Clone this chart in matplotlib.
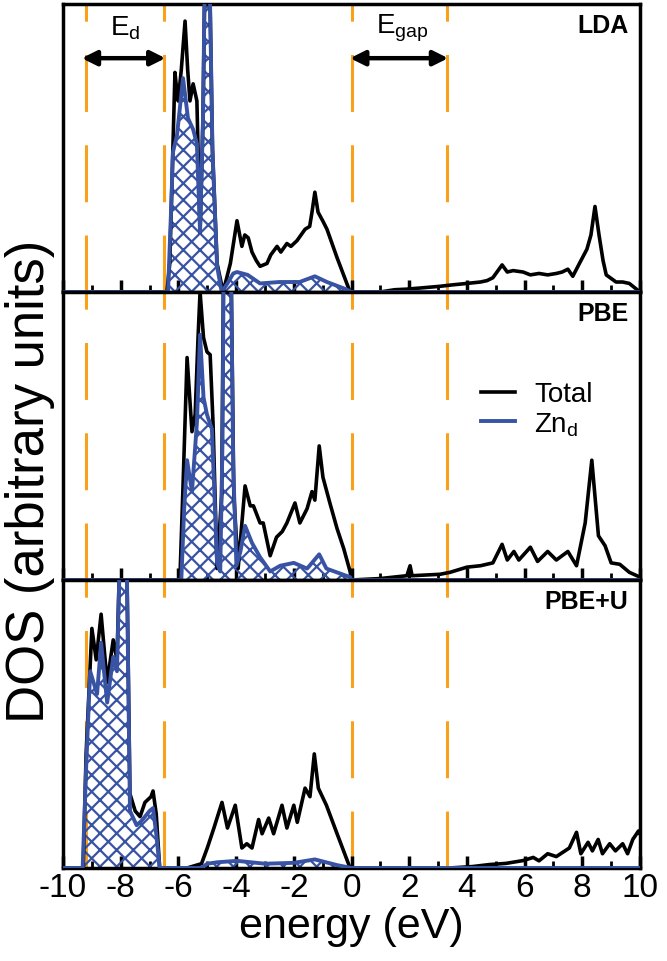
import numpy as np
import matplotlib
matplotlib.use("Agg")
import matplotlib.pyplot as plt

plt.rcParams["font.family"] = ["Liberation Sans", "DejaVu Sans"]
plt.rcParams["mathtext.fontset"] = "custom"
plt.rcParams["mathtext.rm"] = "Liberation Sans"
plt.rcParams["hatch.linewidth"] = 1.6
plt.rcParams["lines.scale_dashes"] = False

BLUE = "#3953a4"
ORANGE = "#f9a11b"

# energies of the guide lines (eV)
ed_lines = [-9.2, -6.5]
gap_lines = [0.0, 3.3]

panel_names = ["LDA", "PBE", "PBE+U"]

# ---- LDA ----
lda_total_e = [-10, -6.4, -6.3, -6.19, -6.12, -6.05, -6.01, -5.9, -5.77, -5.68, -5.6, -5.49, -5.36, -5.25,
               -5.15, -5.06, -4.95, -4.82, -4.66, -4.45, -4.2, -3.97, -3.8, -3.7, -3.58, -3.45, -3.3,
               -3.17, -2.93, -2.8, -2.58, -2.45, -2.24, -2.1, -1.89, -1.75, -1.61, -1.45, -1.37, -1.27,
               -1.16, -1.0, -0.85, -0.5, -0.05, 0.99, 1.5, 1.92, 2.5, 3.07, 3.5, 4.0, 4.47, 4.7, 4.9, 5.22,
               5.4, 5.6, 5.95, 6.2, 6.5, 6.8, 7.1, 7.3, 7.5, 7.67, 7.9, 8.16, 8.3, 8.44, 8.58, 8.72, 8.83,
               9.17, 9.4, 9.63, 10]
lda_total = [0, 0, 0.1, 0.51, 0.77, 0.7, 0.67, 0.78, 0.95, 0.78, 0.67, 0.73, 0.67, 0.21,
             0.6, 1.3, 1.3, 0.5, 0.1, 0.0, 0.1, 0.25, 0.16, 0.2, 0.19, 0.14, 0.11,
             0.09, 0.1, 0.13, 0.16, 0.14, 0.17, 0.16, 0.18, 0.2, 0.22, 0.23, 0.28, 0.35,
             0.28, 0.25, 0.22, 0.12, 0.0, 0.0, 0.008, 0.01, 0.015, 0.02, 0.025, 0.03, 0.035, 0.04, 0.05, 0.095,
             0.07, 0.075, 0.07, 0.06, 0.065, 0.06, 0.065, 0.07, 0.08, 0.055, 0.1, 0.15, 0.2, 0.3, 0.2, 0.11, 0.06,
             0.035, 0.035, 0.03, 0.0]
lda_zn_e = [-10, -6.36, -6.25, -6.19, -6.05, -5.84, -5.67, -5.49, -5.36, -5.25, -5.15, -5.06, -4.95,
            -4.82, -4.66, -4.5, -4.3, -4.1, -3.97, -3.6, -3.17, -2.5, -1.8, -1.27, -0.85, -0.2, 0, 10]
lda_zn = [0, 0, 0.3, 0.49, 0.55, 0.75, 0.61, 0.57, 0.52, 0.21, 0.6, 1.3, 1.3,
          0.5, 0.09, 0.0, 0.03, 0.065, 0.07, 0.06, 0.03, 0.035, 0.035, 0.055, 0.035, 0.01, 0, 0]

# ---- PBE ----
pbe_total_e = [-10, -5.95, -5.85, -5.7, -5.53, -5.42, -5.32, -5.25, -5.13, -5.01, -4.9, -4.8, -4.66, -4.5,
               -4.42, -4.2, -4.08, -3.93, -3.8, -3.69, -3.51, -3.4, -3.17, -3.06, -2.82, -2.6, -2.4, -2.24,
               -1.96, -1.79, -1.54, -1.37, -1.27, -1.12, -0.99, -0.75, -0.5, -0.27, -0.05, 0, 0.99, 1.92,
               2.03, 2.1, 3.07, 3.42, 4.0, 4.47, 4.9, 5.22, 5.4, 5.63, 5.8, 6.2, 6.45, 6.8, 7.1, 7.5, 7.8,
               8.1, 8.33, 8.56, 8.79, 9.0, 9.3, 9.63, 10]
pbe_total = [0, 0, 0.3, 0.78, 0.52, 0.58, 0.85, 1.01, 0.85, 0.8, 0.79, 0.55, 0.04, 0.3,
             1.3, 1.3, 0.3, 0.04, 0.2, 0.33, 0.26, 0.26, 0.2, 0.2, 0.085, 0.15, 0.17, 0.2,
             0.27, 0.2, 0.25, 0.31, 0.28, 0.47, 0.36, 0.27, 0.18, 0.11, 0.03, 0, 0.005, 0.015,
             0.05, 0.015, 0.02, 0.027, 0.045, 0.05, 0.06, 0.125, 0.07, 0.1, 0.07, 0.115, 0.065, 0.1, 0.07, 0.1, 0.05,
             0.2, 0.42, 0.155, 0.12, 0.06, 0.055, 0.027, 0.01]
pbe_zn_e = [-10, -5.9, -5.8, -5.7, -5.53, -5.36, -5.25, -5.13, -5.01, -4.84, -4.66, -4.55, -4.47, -4.42,
            -4.2, -4.1, -3.99, -3.85, -3.69, -3.45, -3.17, -2.82, -2.47, -2.0, -1.54, -1.12, -0.87, -0.05, 0, 10]
pbe_zn = [0, 0, 0.25, 0.42, 0.31, 0.55, 0.86, 0.64, 0.58, 0.53, 0.06, 0.03, 0.5, 1.3,
          1.3, 0.4, 0.05, 0.1, 0.19, 0.13, 0.08, 0.03, 0.05, 0.06, 0.04, 0.09, 0.04, 0.01, 0, 0]

# ---- PBE+U ----
pbeu_total_e = [-10, -9.3, -9.2, -9.0, -8.85, -8.68, -8.47, -8.26, -8.13, -7.98, -7.82, -7.68, -7.5, -7.33,
                -7.16, -6.95, -6.88, -6.77, -6.65, -5.7, -5.2, -5.0, -4.77, -4.49, -4.3, -4.03, -3.8, -3.63,
                -3.45, -3.22, -3.1, -2.87, -2.7, -2.41, -2.24, -2.0, -1.88, -1.61, -1.44, -1.29, -1.15,
                -0.87, -0.5, -0.05, 3.4, 4.2, 4.78, 5.35, 5.95, 6.3, 6.5, 6.8, 7.1, 7.55, 7.8, 7.95, 8.2,
                8.35, 8.55, 8.7, 8.95, 9.15, 9.4, 9.57, 9.75, 9.95, 10]
pbeu_total = [0, 0, 0.4, 0.84, 0.73, 0.89, 0.65, 0.8, 0.73, 1.3, 1.3, 0.26, 0.2, 0.18,
              0.23, 0.25, 0.27, 0.19, 0, 0, 0.015, 0.07, 0.14, 0.23, 0.14, 0.22, 0.07, 0.085,
              0.07, 0.17, 0.12, 0.175, 0.12, 0.22, 0.14, 0.22, 0.16, 0.28, 0.25, 0.4, 0.28,
              0.22, 0.12, 0, 0, 0.005, 0.012, 0.016, 0.026, 0.037, 0.025, 0.05, 0.04, 0.07, 0.125, 0.05, 0.09,
              0.06, 0.1, 0.05, 0.085, 0.06, 0.085, 0.05, 0.1, 0.13, 0.12]
pbeu_zn_e = [-10, -9.32, -9.2, -9.06, -8.82, -8.68, -8.47, -8.26, -8.13, -7.98, -7.82, -7.68, -7.45,
             -7.28, -7.0, -6.88, -6.77, -6.65, -5.2, -5.0, -4.65, -3.97, -3.0, -2.0, -1.27, -0.5, 0, 10]
pbeu_zn = [0, 0, 0.35, 0.69, 0.61, 0.79, 0.58, 0.74, 0.69, 1.3, 1.3, 0.2, 0.15,
           0.165, 0.2, 0.21, 0.12, 0, 0, 0.015, 0.02, 0.025, 0.015, 0.018, 0.03, 0.01, 0, 0]

panels = [
    (lda_total_e, lda_total, lda_zn_e, lda_zn),
    (pbe_total_e, pbe_total, pbe_zn_e, pbe_zn),
    (pbeu_total_e, pbeu_total, pbeu_zn_e, pbeu_zn),
]

fig, axes = plt.subplots(3, 1, figsize=(6.67, 9.62), dpi=100, sharex=True)
fig.subplots_adjust(left=0.0945, right=0.9595, top=0.9948, bottom=0.0967, hspace=0)

for ax, name, (te, tv, ze, zv) in zip(axes, panel_names, panels):
    for x in ed_lines + gap_lines:
        ax.axvline(x, color=ORANGE, lw=2.2, dashes=(41, 24), zorder=1)
    ax.plot(te, tv, color="black", lw=2.6, zorder=3, label="Total")
    ax.fill_between(ze, zv, facecolor="none", edgecolor=BLUE, hatch="xx", lw=0, zorder=2)
    ax.plot(ze, zv, color=BLUE, lw=2.8, zorder=4, label="Zn$_\\mathrm{d}$")
    ax.text(0.98, 0.97, name, transform=ax.transAxes, ha="right", va="top",
            fontsize=18, fontweight="bold")
    ax.set_xlim(-10, 10)
    ax.set_ylim(0, 1.01)
    ax.set_yticks([])
    ax.set_xticks(np.arange(-10, 11, 2))
    ax.set_xticks(np.arange(-10, 11, 1), minor=True)
    ax.tick_params(axis="x", which="major", direction="in", length=9, width=2.5,
                   labelsize=24, pad=3)
    ax.tick_params(axis="x", which="minor", direction="in", length=5, width=2)
    for s in ax.spines.values():
        s.set_linewidth(2.5)

axes[0].set_xticklabels([])
axes[1].set_xticklabels([])
axes[2].set_xticklabels([str(v) for v in range(-10, 11, 2)])

# band-width / gap arrows
top = axes[0]
arrow = dict(arrowstyle="<|-|>", lw=3.2, color="black", mutation_scale=22, shrinkA=0, shrinkB=0)
top.annotate("", xy=(-6.45, 0.82), xytext=(-9.35, 0.82), arrowprops=arrow)
top.annotate("", xy=(3.35, 0.82), xytext=(-0.05, 0.82), arrowprops=arrow)
top.text(-7.85, 0.93, "E$_\\mathrm{d}$", ha="center", va="center", fontsize=20)
top.text(1.75, 0.93, "E$_\\mathrm{gap}$", ha="center", va="center", fontsize=20)

axes[1].legend(loc="upper left", bbox_to_anchor=(0.725, 0.69), frameon=False, fontsize=20,
               handlelength=1.2, handletextpad=0.7, labelspacing=0.1, borderpad=0,
               borderaxespad=0)

axes[2].set_xlabel("energy (eV)", fontsize=31, labelpad=2)
fig.text(0.045, 0.5, "DOS (arbitrary units)", rotation=90, ha="center", va="center", fontsize=38)

fig.savefig("out.png", dpi=100)
